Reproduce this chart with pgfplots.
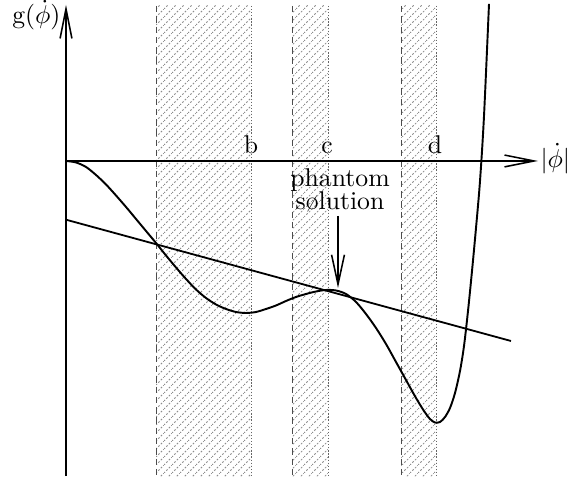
\documentclass[border=0pt]{standalone}
\usepackage{pgfplots}
\pgfplotsset{compat=1.18}
\usetikzlibrary{arrows.meta,patterns.meta}
\tikzdeclarepattern{
  name=dhatch,
  type=uncolored,
  bounding box={(0,0) and (3.2pt,3.2pt)},
  tile size={(3.2pt,3.2pt)},
  code={\draw[line width=0.35pt,dash pattern=on 0.8pt off 0.7pt] (-0.1pt,-0.1pt)--(3.3pt,3.3pt);}
}
\begin{document}
\begin{tikzpicture}
\begin{axis}[
  width=224pt, height=186.3pt, scale only axis,
  xmin=0, xmax=576, ymin=-479, ymax=0,
  hide axis, clip=false,
]
\path (rel axis cs:0,0) rectangle (rel axis cs:1,1);
% bands
\addplot[draw=none, pattern=dhatch, pattern color=black!45] coordinates {(156,-5) (251,-5) (251,-475) (156,-475)} -- cycle;
\addplot[draw=none, pattern=dhatch, pattern color=black!45] coordinates {(292,-5) (328,-5) (328,-475) (292,-475)} -- cycle;
\addplot[draw=none, pattern=dhatch, pattern color=black!45] coordinates {(401,-5) (436,-5) (436,-475) (401,-475)} -- cycle;
\addplot[black!70, line width=0.35pt, dash pattern=on 2.5pt off 1.5pt] coordinates {(156,-5) (156,-475)};
\addplot[black!70, line width=0.35pt, dash pattern=on 2.5pt off 1.5pt] coordinates {(292,-5) (292,-475)};
\addplot[black!70, line width=0.35pt, dash pattern=on 2.5pt off 1.5pt] coordinates {(401,-5) (401,-475)};
\addplot[black!60, line width=0.35pt, dash pattern=on 0.5pt off 0.7pt] coordinates {(251,-5) (251,-475)};
\addplot[black!60, line width=0.35pt, dash pattern=on 0.5pt off 0.7pt] coordinates {(328,-5) (328,-475)};
\addplot[black!60, line width=0.35pt, dash pattern=on 0.5pt off 0.7pt] coordinates {(436,-5) (436,-475)};
% axes
\addplot[black, line width=0.6pt, -{Straight Barb[length=11.5pt,width=4.6pt,line width=0.6pt]}] coordinates {(66,-475) (66,-4)};
\addplot[black, line width=0.6pt, -{Straight Barb[length=11.5pt,width=4.6pt,line width=0.6pt]}] coordinates {(66,-160) (538,-160)};
% straight line
\addplot[black, line width=0.7pt] coordinates {(67,-219) (511,-340)};
% curve
\addplot[black, line width=0.75pt, smooth, tension=0.5] coordinates {
(66,-160) (76,-161.5) (86,-166) (96,-174) (106,-183.5) (116,-194.5) (126,-206) (136,-218)
(146,-230) (156,-242) (166,-254.5) (176,-266.5) (186,-278) (196,-288.5) (206,-297) (216,-303.5)
(226,-308) (236,-311) (246,-312) (256,-311) (266,-308) (276,-304.5) (286,-300) (296,-296)
(306,-293) (316,-290.5) (326,-289) (336,-289.5) (346,-293) (356,-301) (366,-313) (376,-327)
(386,-343) (396,-361) (406,-379) (416,-397) (424,-410) (430,-418) (435,-421.5) (440,-421)
(445,-416) (450,-407) (455,-392) (460,-370) (464,-345) (468,-310) (472,-270) (476,-227)
(480,-180) (484,-115) (489,-3)};
% phantom arrow
\addplot[black, line width=0.6pt, -{Straight Barb[length=11.5pt,width=5pt,line width=0.6pt]}] coordinates {(338,-215) (338,-287)};
% labels
\node[anchor=base east, inner sep=0pt] at (axis cs:61,-23) {g($\dot\phi$)};
\node[anchor=west, inner sep=0pt] at (axis cs:540,-158) {$|\dot\phi|$};
\node[anchor=base, inner sep=0pt] at (axis cs:251,-153) {b};
\node[anchor=base, inner sep=0pt] at (axis cs:327,-153) {c};
\node[anchor=base, inner sep=0pt] at (axis cs:435,-153) {d};
\node[anchor=base, inner sep=0pt] at (axis cs:340,-186) {phantom};
\node[anchor=base, inner sep=0pt] at (axis cs:340,-209) {s{\o}lution};
\end{axis}
\end{tikzpicture}
\end{document}
